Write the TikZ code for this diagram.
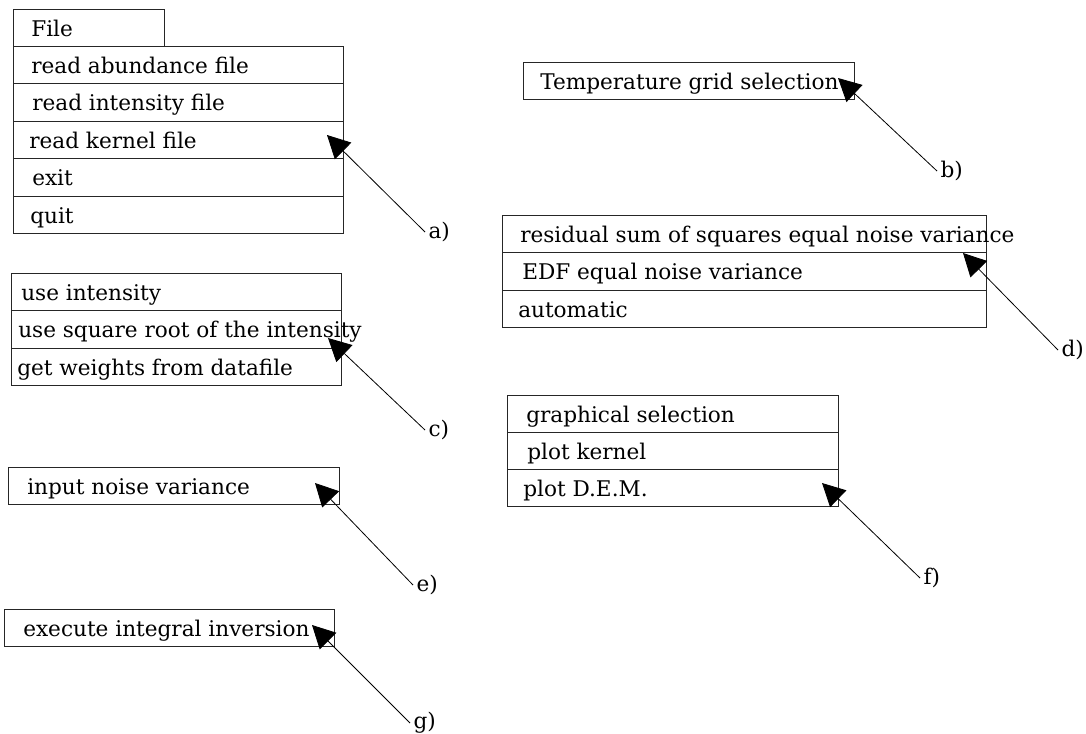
\documentclass[tikz,border=0pt]{standalone}
\usepackage{fontspec}
\setmainfont{DejaVu Serif}
\usetikzlibrary{arrows.meta,calc}
\begin{document}
\begin{tikzpicture}[x=0.75pt,y=-0.75pt,
  cell/.style args={#1x#2}{draw=black!85, line width=0.7pt, anchor=north west,
    inner sep=0pt, outer sep=0pt, minimum width=#1*0.75pt, minimum height=#2*0.75pt},
  entry/.style={anchor=base west, inner sep=0pt, font=\fontsize{16.2}{19}\selectfont},
  tag/.style={anchor=west, inner xsep=2.5pt, inner ysep=0pt, font=\fontsize{16.2}{19}\selectfont},
  pointer/.style={draw, line width=0.6pt, -{Triangle[length=17pt,width=17.5pt]}}]
\useasboundingbox (0,0) rectangle (1086,733);

% File menu
\node[cell=151x37]   (fileTab) at (13,9) {};
\node[cell=330x37.5] (rA1) at (13,46) {};
\node[cell=330x37.5] (rA2) at (13,83.5) {};
\node[cell=330x37.5] (rA3) at (13,121) {};
\node[cell=330x37.5] (rA4) at (13,158.5) {};
\node[cell=330x37.5] (rA5) at (13,196) {};
\node[entry] (tTab) at ($(fileTab.north west)+(18,27)$) {File};
\node[entry] (tA1) at ($(rA1.north west)+(18,27)$) {read abundance file};
\node[entry] (tA2) at ($(rA2.north west)+(19,27)$) {read intensity file};
\node[entry] (tA3) at ($(rA3.north west)+(16,27)$) {read kernel file};
\node[entry] (tA4) at ($(rA4.north west)+(19,27)$) {exit};
\node[entry] (tA5) at ($(rA5.north west)+(17,27)$) {quit};

% temperature grid
\node[cell=331x37] (rB) at (523,62) {};
\node[entry] (tB) at ($(rB.north west)+(17,27)$) {Temperature grid selection};

% weights
\node[cell=330x37.5] (rC1) at (11,273) {};
\node[cell=330x37.5] (rC2) at (11,310.5) {};
\node[cell=330x37.5] (rC3) at (11,348) {};
\node[entry] (tC1) at ($(rC1.north west)+(10,27)$) {use intensity};
\node[entry] (tC2) at ($(rC2.north west)+(7,27)$) {use square root of the intensity};
\node[entry] (tC3) at ($(rC3.north west)+(6,27)$) {get weights from datafile};

% regularisation parameter
\node[cell=484x37.3] (rD1) at (502,215.5) {};
\node[cell=484x37.3] (rD2) at (502,252.8) {};
\node[cell=484x37.3] (rD3) at (502,290.1) {};
\node[entry] (tD1) at ($(rD1.north west)+(18,27)$) {residual sum of squares equal noise variance};
\node[entry] (tD2) at ($(rD2.north west)+(20,27)$) {EDF equal noise variance};
\node[entry] (tD3) at ($(rD3.north west)+(16,27)$) {automatic};

% noise variance
\node[cell=331x37] (rE) at (8,467) {};
\node[entry] (tE) at ($(rE.north west)+(19,27)$) {input noise variance};

% plotting
\node[cell=331x37.3] (rF1) at (507,395) {};
\node[cell=331x37.3] (rF2) at (507,432.3) {};
\node[cell=331x37.3] (rF3) at (507,469.6) {};
\node[entry] (tF1) at ($(rF1.north west)+(19,27)$) {graphical selection};
\node[entry] (tF2) at ($(rF2.north west)+(20,27)$) {plot kernel};
\node[entry] (tF3) at ($(rF3.north west)+(16,27)$) {plot D.E.M.};

% inversion
\node[cell=330x37] (rG) at (4,609) {};
\node[entry] (tG) at ($(rG.north west)+(19,27)$) {execute integral inversion};

% arrow heads
\coordinate (hA) at (327,135);
\coordinate (hB) at (838,78);
\coordinate (hC) at (328,338);
\coordinate (hD) at (963,253);
\coordinate (hE) at (315,483);
\coordinate (hF) at (822,483);
\coordinate (hG) at (312,625);

% labels
\node[tag] (la) at (425,232) {a)};
\node[tag] (lb) at (937,171) {b)};
\node[tag] (lc) at (425,430) {c)};
\node[tag] (ld) at (1058,350) {d)};
\node[tag] (le) at (413,585) {e)};
\node[tag] (lf) at (920,578) {f)};
\node[tag] (lg) at (410,723) {g)};

\draw[pointer] (la.west) -- (hA);
\draw[pointer] (lb.west) -- (hB);
\draw[pointer] (lc.west) -- (hC);
\draw[pointer] (ld.west) -- (hD);
\draw[pointer] (le.west) -- (hE);
\draw[pointer] (lf.west) -- (hF);
\draw[pointer] (lg.west) -- (hG);
\end{tikzpicture}
\end{document}
